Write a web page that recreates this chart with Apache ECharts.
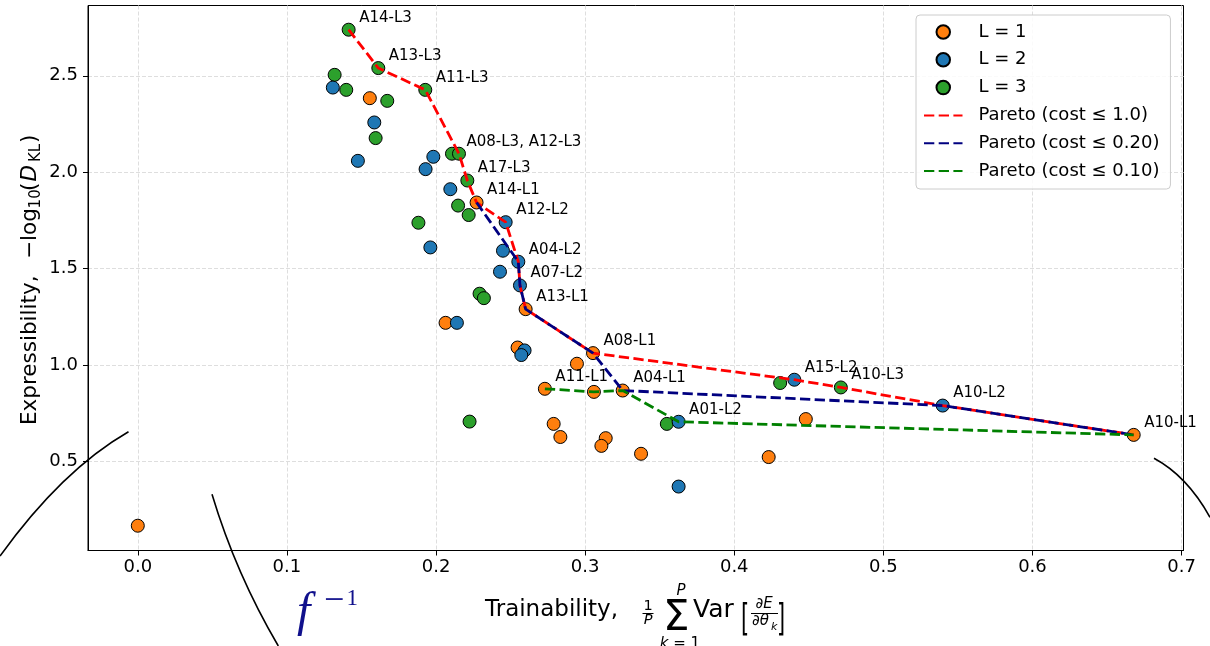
<!DOCTYPE html>
<html><head><meta charset="utf-8">
<script src="https://cdn.jsdelivr.net/npm/echarts@6/dist/echarts.min.js"></script>
<style>html,body{margin:0;padding:0;background:#fff}#c{width:1210px;height:646px}</style>
</head><body><div id="c"></div>
<script>
// ---------- data ----------
const xTicks = [0.0, 0.1, 0.2, 0.3, 0.4, 0.5, 0.6, 0.7];
const yTicks = [0.5, 1.0, 1.5, 2.0, 2.5];

// L = 1 (orange)
const x1 = [0.000, 0.2272, 0.1556, 0.2601, 0.2064, 0.2547, 0.3053, 0.2945, 0.2730, 0.3059, 0.3252, 0.2789, 0.2834, 0.3138, 0.3109, 0.3375, 0.4480, 0.4231, 0.6679];
const y1 = [0.167, 1.843, 2.384, 1.290, 1.219, 1.091, 1.062, 1.007, 0.877, 0.861, 0.868, 0.695, 0.627, 0.621, 0.581, 0.540, 0.720, 0.523, 0.638];
const n1 = ['', 'A14-L1', '', 'A13-L1', '', '', 'A08-L1', '', 'A11-L1', '', 'A04-L1', '', '', '', '', '', '', '', 'A10-L1'];

// L = 2 (blue)
const x2 = [0.1308, 0.1586, 0.1476, 0.1982, 0.1930, 0.2096, 0.2467, 0.1962, 0.2449, 0.2552, 0.2429, 0.2563, 0.2140, 0.2594, 0.2572, 0.3627, 0.3627, 0.4403, 0.5398];
const y2 = [2.439, 2.258, 2.059, 2.080, 2.016, 1.912, 1.741, 1.610, 1.593, 1.536, 1.484, 1.413, 1.219, 1.076, 1.052, 0.706, 0.370, 0.924, 0.790];
const n2 = ['', '', '', '', '', '', 'A12-L2', '', '', 'A04-L2', '', 'A07-L2', '', '', '', 'A01-L2', '', 'A15-L2', 'A10-L2'];

// L = 3 (green)
const x3 = [0.1414, 0.1613, 0.1928, 0.1320, 0.1398, 0.1673, 0.1595, 0.2107, 0.2154, 0.2210, 0.2148, 0.2219, 0.1882, 0.2292, 0.2321, 0.2225, 0.3548, 0.4308, 0.4715];
const y3 = [2.739, 2.540, 2.427, 2.505, 2.427, 2.370, 2.177, 2.096, 2.096, 1.957, 1.827, 1.778, 1.738, 1.370, 1.347, 0.707, 0.695, 0.907, 0.884];
const n3 = ['A14-L3', 'A13-L3', 'A11-L3', '', '', '', '', 'A08-L3', 'A12-L3', 'A17-L3', '', '', '', '', '', '', '', '', 'A10-L3'];

// label text overrides
const hiddenLabels = ['A08-L3'];
const labelText = {'A12-L3': 'A08-L3, A12-L3'};

// Pareto fronts (point ids; "L1#9" = unnamed point index 9 of L = 1)
const pareto10 = ['A14-L3', 'A13-L3', 'A11-L3', 'A12-L3', 'A17-L3', 'A14-L1', 'A12-L2', 'A04-L2', 'A07-L2', 'A13-L1', 'A08-L1', 'A15-L2', 'A10-L3', 'A10-L2', 'A10-L1'];
const pareto020 = ['A14-L1', 'A04-L2', 'A07-L2', 'A13-L1', 'A08-L1', 'A04-L1', 'A10-L2', 'A10-L1'];
const pareto010 = ['A11-L1', 'L1#9', 'A04-L1', 'A01-L2', 'A10-L1'];

const seriesNames = ['L = 1', 'L = 2', 'L = 3'];
const paretoNames = ['Pareto (cost ≤ 1.0)', 'Pareto (cost ≤ 0.20)', 'Pareto (cost ≤ 0.10)'];

// ---------- build ----------
const groups = {
  L1: {name: seriesNames[0], color: '#ff7f0e', x: x1, y: y1, ids: n1},
  L2: {name: seriesNames[1], color: '#1f77b4', x: x2, y: y2, ids: n2},
  L3: {name: seriesNames[2], color: '#2ca02c', x: x3, y: y3, ids: n3}
};
function findPt(key) {
  if (key.indexOf('#') >= 0) {
    const [g, i] = key.split('#');
    return [groups[g].x[+i], groups[g].y[+i]];
  }
  for (const k in groups) {
    const g = groups[k];
    const i = g.ids.indexOf(key);
    if (i >= 0) return [g.x[i], g.y[i]];
  }
  return null;
}
const FONT = '"DejaVu Sans", sans-serif';

function scatterSeries(g) {
  return {
    type: 'scatter', name: g.name, symbol: 'circle', symbolSize: 13,
    itemStyle: {color: g.color, borderColor: '#000', borderWidth: 1, opacity: 1},
    emphasis: {disabled: true},
    z: 2,
    data: g.x.map((xv, i) => {
      const id = g.ids[i];
      const show = id !== '' && hiddenLabels.indexOf(id) < 0;
      const txt = labelText[id] || id;
      const item = {value: [xv, g.y[i]], name: id};
      if (show) {
        item.label = {
          show: true, formatter: txt, position: 'inside', align: 'left', verticalAlign: 'middle',
          offset: id === 'A12-L3' ? [7.5, -12] : [10.5, -12],
          color: '#000', fontSize: 15, fontFamily: FONT
        };
      }
      return item;
    })
  };
}
function paretoSeries(name, ids, color) {
  return {
    type: 'line', name: name, symbol: 'none', showSymbol: false, z: 3,
    lineStyle: {color: color, width: 2.8, type: [10.3, 4.4]},
    itemStyle: {color: color},
    emphasis: {disabled: true},
    data: ids.map(findPt)
  };
}

const chart = echarts.init(document.getElementById('c'), null, {renderer: 'canvas'});
const tStyle = (fs, extra) => Object.assign({fill: '#000', font: fs + 'px ' + FONT, align: 'left', verticalAlign: 'middle'}, extra || {});
const hideSym = {color: 'rgba(0,0,0,0)', borderColor: 'rgba(0,0,0,0)', borderWidth: 0, opacity: 0};

const option = {
  animation: false,
  backgroundColor: '#fff',
  textStyle: {fontFamily: FONT},
  grid: {left: 88, top: 5.5, width: 1095.5, height: 545, show: true, borderColor: '#000', borderWidth: 1, containLabel: false},
  xAxis: {
    type: 'value', min: -0.0334, max: 0.7013,
    axisLine: {show: true, onZero: false, lineStyle: {color: '#000', width: 1}},
    axisTick: {show: true, length: 5, lineStyle: {color: '#000', width: 1}, customValues: xTicks},
    axisLabel: {color: '#000', fontSize: 18, margin: 8, customValues: xTicks, formatter: v => v.toFixed(1)},
    splitLine: {show: true, lineStyle: {color: '#dedede', width: 1, type: [4, 2]}}
  },
  yAxis: {
    type: 'value', min: 0.0385, max: 2.8645,
    axisLine: {show: true, onZero: false, lineStyle: {color: '#000', width: 1}},
    axisTick: {show: true, length: 5, lineStyle: {color: '#000', width: 1}, customValues: yTicks},
    axisLabel: {color: '#000', fontSize: 18, margin: 10, customValues: yTicks, formatter: v => v.toFixed(1)},
    splitLine: {show: true, lineStyle: {color: '#dedede', width: 1, type: [4, 2]}}
  },
  legend: {
    orient: 'vertical', left: 916, top: 15,
    padding: [8, 11, 9, 7], itemWidth: 38.5, itemHeight: 13.5, itemGap: 9.8,
    selectedMode: false,
    backgroundColor: 'rgba(255,255,255,0.85)', borderColor: '#cccccc', borderWidth: 1, borderRadius: 4,
    textStyle: {fontSize: 18, lineHeight: 18, color: '#000', padding: [0, 0, 0, 11], fontFamily: FONT},
    data: seriesNames.map(n => ({name: n})).concat(paretoNames.map(n => ({name: n, itemStyle: hideSym})))
  },
  series: [
    scatterSeries(groups.L1),
    scatterSeries(groups.L3),
    scatterSeries(groups.L2),
    paretoSeries(paretoNames[0], pareto10, '#ff0000'),
    paretoSeries(paretoNames[1], pareto020, '#000080'),
    paretoSeries(paretoNames[2], pareto010, '#008000')
  ],
  graphic: [
    // decorative arcs
    {type: 'bezierCurve', z: 100, shape: {x1: 0, y1: 556, cpx1: 62, cpy1: 470, x2: 128.5, y2: 431.7}, style: {stroke: '#000', lineWidth: 1.6, fill: 'none'}},
    {type: 'bezierCurve', z: 100, shape: {x1: 212, y1: 494.3, cpx1: 236, cpy1: 574, x2: 278.3, y2: 646}, style: {stroke: '#000', lineWidth: 1.6, fill: 'none'}},
    {type: 'bezierCurve', z: 100, shape: {x1: 1154, y1: 458.3, cpx1: 1187, cpy1: 476, x2: 1210, y2: 517.3}, style: {stroke: '#000', lineWidth: 1.6, fill: 'none'}},
    // f^{-1}
    {type: 'text', z: 100, x: 297, y: 613, style: {text: 'f', fill: '#10108c', font: 'italic 48px "Liberation Serif", serif', align: 'left', verticalAlign: 'middle'}},
    {type: 'text', z: 100, x: 324, y: 602, style: {text: '−', fill: '#10108c', font: '36px "Liberation Serif", serif', align: 'left', verticalAlign: 'middle'}},
    {type: 'text', z: 100, x: 346.5, y: 599, style: {text: '1', fill: '#10108c', font: '23px "Liberation Serif", serif', align: 'left', verticalAlign: 'middle'}},
    // x axis title
    {type: 'text', z: 100, x: 485, y: 610.5, style: tStyle(23, {text: 'Trainability,'})},
    {type: 'text', z: 100, x: 648, y: 606.5, style: tStyle(14.5, {text: '1', align: 'center'})},
    {type: 'line', z: 100, shape: {x1: 642.5, y1: 613.5, x2: 653.5, y2: 613.5}, style: {stroke: '#000', lineWidth: 1}},
    {type: 'text', z: 100, x: 648, y: 620, style: tStyle(14.5, {text: 'P', align: 'center', font: 'italic 14.5px ' + FONT})},
    {type: 'text', z: 100, x: 663, y: 619, style: tStyle(42, {text: 'Σ'})},
    {type: 'text', z: 100, x: 681, y: 591.5, style: tStyle(15, {text: 'P', align: 'center', font: 'italic 15px ' + FONT})},
    {type: 'text', z: 100, x: 680, y: 644.5, style: tStyle(15, {text: '{i|k} = 1', align: 'center', rich: {i: {fontStyle: 'italic', fontSize: 15, fontFamily: FONT}}})},
    {type: 'text', z: 100, x: 693, y: 610.5, style: tStyle(25, {text: 'Var'})},
    {type: 'text', z: 100, x: 741, y: 620, scaleX: 0.55, style: tStyle(38, {text: '['})},
    {type: 'text', z: 100, x: 764, y: 604, style: tStyle(15, {text: '∂E', align: 'center', font: 'italic 15px ' + FONT})},
    {type: 'line', z: 100, shape: {x1: 751, y1: 613.5, x2: 778, y2: 613.5}, style: {stroke: '#000', lineWidth: 1}},
    {type: 'text', z: 100, x: 752, y: 621.5, style: tStyle(15, {text: '∂θ', font: 'italic 15px ' + FONT})},
    {type: 'text', z: 100, x: 771, y: 627, style: tStyle(11, {text: 'k', font: 'italic 11px ' + FONT})},
    {type: 'text', z: 100, x: 777, y: 620, scaleX: 0.55, style: tStyle(38, {text: ']'})},
    // y axis title (rotated)
    {type: 'group', z: 100, x: 30, y: 425, rotation: Math.PI / 2, children: [
      {type: 'text', x: 0, y: 0, style: tStyle(21.5, {text: 'Expressibility,'})},
      {type: 'text', x: 166, y: 0, style: tStyle(21.5, {text: '−log'})},
      {type: 'text', x: 216.6, y: 5.8, style: tStyle(15, {text: '10'})},
      {type: 'text', x: 234, y: 0, style: tStyle(21.5, {text: '('})},
      {type: 'text', x: 243.5, y: 0, style: tStyle(21.5, {text: 'D', font: 'italic 21.5px ' + FONT})},
      {type: 'text', x: 263, y: 5.8, style: tStyle(15, {text: 'KL'})},
      {type: 'text', x: 282, y: 0, style: tStyle(21.5, {text: ')'})}
    ]}
  ]
};
chart.setOption(option);
</script>
</body></html>
